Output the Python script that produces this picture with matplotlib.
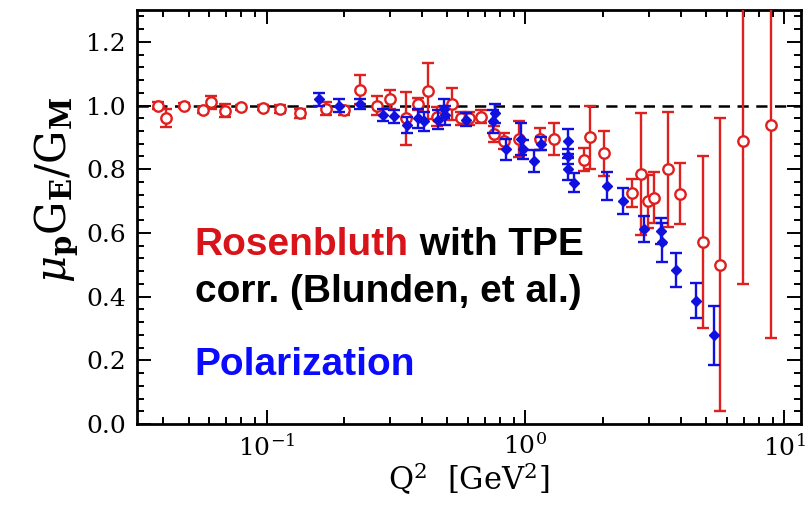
import matplotlib
matplotlib.use('Agg')
import matplotlib.pyplot as plt
import numpy as np
from matplotlib.ticker import MultipleLocator, FormatStrFormatter, LogLocator

plt.rcParams['font.family'] = 'DejaVu Serif'
plt.rcParams['mathtext.fontset'] = 'dejavuserif'

# Rosenbluth with TPE correction (open red circles)
ros_q2 = [0.038, 0.041, 0.048, 0.057, 0.061, 0.069, 0.080, 0.097, 0.113, 0.135,
          0.169, 0.199, 0.229, 0.267, 0.299, 0.345, 0.384, 0.42, 0.455, 0.52,
          0.563, 0.605, 0.673, 0.755, 0.826, 0.944, 1.14, 1.29, 1.68, 1.78,
          2.01, 2.58, 2.80, 2.98, 3.14, 3.56, 3.96, 4.86, 5.66, 6.94, 8.91]
ros_r = [1.00, 0.96, 1.00, 0.985, 1.01, 0.984, 0.995, 0.993, 0.99, 0.975,
         0.99, 0.985, 1.05, 1.00, 1.02, 0.96, 1.005, 1.045, 0.965, 1.005,
         0.96, 0.96, 0.965, 0.91, 0.89, 0.894, 0.894, 0.894, 0.83, 0.90,
         0.85, 0.725, 0.785, 0.70, 0.71, 0.80, 0.723, 0.57, 0.50, 0.89, 0.94]
ros_err = [0.012, 0.028, 0.008, 0.01, 0.02, 0.02, 0.008, 0.008, 0.012, 0.015,
           0.02, 0.015, 0.045, 0.03, 0.03, 0.083, 0.02, 0.088, 0.03, 0.05,
           0.02, 0.02, 0.02, 0.025, 0.025, 0.056, 0.035, 0.05, 0.036, 0.098,
           0.07, 0.044, 0.19, 0.083, 0.08, 0.18, 0.096, 0.27, 0.46, 0.45, 0.67]

# Polarization transfer (filled blue diamonds)
pol_q2 = [0.159, 0.19, 0.229, 0.281, 0.31, 0.348, 0.384, 0.405, 0.459, 0.484,
          0.49, 0.589, 0.749, 0.76, 0.841, 0.961, 0.978, 1.079, 1.148, 1.46,
          1.46, 1.46, 1.54, 2.07, 2.38, 2.87, 3.34, 3.375, 3.82, 4.57, 5.36]
pol_r = [1.02, 1.00, 1.005, 0.97, 0.966, 0.94, 0.96, 0.95, 0.955, 0.99,
         0.97, 0.955, 0.95, 0.975, 0.8625, 0.894, 0.8625, 0.825, 0.88, 0.8875,
         0.84, 0.80, 0.757, 0.747, 0.70, 0.6125, 0.606, 0.57, 0.484, 0.3875, 0.278]
pol_err = [0.02, 0.02, 0.015, 0.02, 0.02, 0.025, 0.03, 0.03, 0.03, 0.03,
           0.03, 0.02, 0.035, 0.03, 0.033, 0.05, 0.03, 0.035, 0.02, 0.04,
           0.025, 0.035, 0.03, 0.044, 0.04, 0.04, 0.04, 0.06, 0.053, 0.055, 0.094]

RED = '#e0201e'
BLUE = '#1010e0'

fig = plt.figure(figsize=(8.12, 5.05), dpi=100)
ax = fig.add_axes([0.1687, 0.1604, 0.8178, 0.8198])

ax.axhline(1.0, color='black', lw=1.8, ls=(0, (4.5, 3.0)), zorder=1)

ax.errorbar(ros_q2, ros_r, yerr=ros_err, fmt='o', mfc='white', mec=RED,
            ecolor=RED, ms=7.5, mew=1.7, elinewidth=1.7, capsize=4.5, capthick=1.7,
            zorder=3)
ax.errorbar(pol_q2, pol_r, yerr=pol_err, fmt='D', mfc=BLUE, mec=BLUE,
            ecolor=BLUE, ms=4.8, elinewidth=1.7, capsize=4.5, capthick=1.7,
            zorder=4)

ax.set_xscale('log')
ax.set_xlim(0.0316, 11.6)
ax.set_ylim(0.0, 1.3)

ax.yaxis.set_major_locator(MultipleLocator(0.2))
ax.yaxis.set_minor_locator(MultipleLocator(0.04))
ax.yaxis.set_major_formatter(FormatStrFormatter('%.1f'))
ax.xaxis.set_major_locator(LogLocator(base=10, numticks=10))
ax.xaxis.set_minor_locator(LogLocator(base=10, subs=np.arange(2, 10), numticks=20))

ax.tick_params(which='both', direction='in', top=True, right=True, width=1.4,
               labelsize=18)
ax.tick_params(which='major', length=10)
ax.tick_params(which='minor', length=5)
ax.tick_params(axis='x', pad=7)
ax.tick_params(axis='y', pad=8)
for s in ax.spines.values():
    s.set_linewidth(2)

ax.set_xlabel(r'$\mathrm{Q}^2\ \ [\mathrm{GeV}^2]$', fontsize=22, labelpad=0)
ax.set_ylabel(r'$\mu_{\mathbf{p}}\mathrm{G}_{\mathbf{E}}/\mathrm{G}_{\mathbf{M}}$',
              fontsize=30)
ax.yaxis.set_label_coords(-0.085, 0.565)

# legend-style annotations
sans = dict(family='Liberation Sans', weight='bold', fontsize=28)
t1 = ax.text(0.087, 0.432, 'Rosenbluth', color='#d8141a', va='center',
             transform=ax.transAxes, **sans)
ax.annotate(' with TPE', xy=(1, 0.5), xycoords=t1, va='center', ha='left',
            color='black', **sans)
ax.text(0.087, 0.319, 'corr. (Blunden, et al.)', color='black', va='center',
        transform=ax.transAxes, **sans)
ax.text(0.087, 0.1425, 'Polarization', color='#0a0aff', va='center',
        transform=ax.transAxes, **sans)

fig.savefig('out.png', dpi=100)
